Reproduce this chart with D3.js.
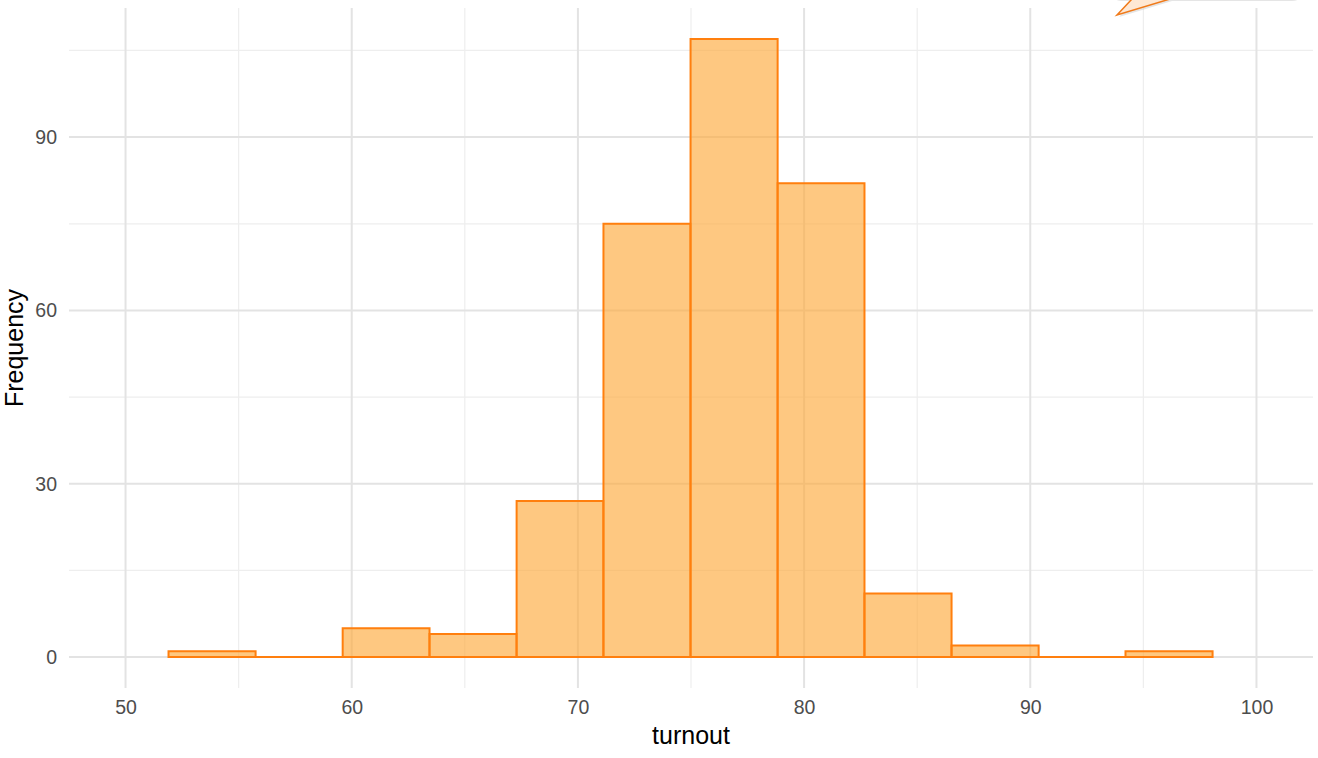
<!DOCTYPE html>
<html>
<head>
<meta charset="utf-8">
<script src="https://cdn.jsdelivr.net/npm/d3@7"></script>
<style>
  html, body { margin: 0; padding: 0; background: #ffffff; }
  svg { display: block; }
  text { font-family: "Liberation Sans", Arial, Helvetica, sans-serif; }
</style>
</head>
<body>
<svg id="chart" width="1318" height="758"></svg>
<script>
// Histogram of turnout: bin edges and counts per bin
const binEdges = [51.90, 55.75, 59.60, 63.44, 67.29, 71.13, 74.98, 78.83, 82.67, 86.52, 90.37, 94.21, 98.06];
const binCounts = [1, 0, 5, 4, 27, 75, 107, 82, 11, 2, 0, 1];
const xTicks = [50, 60, 70, 80, 90, 100];
const xMinor = [55, 65, 75, 85, 95];
const yTicks = [0, 30, 60, 90];
const yMinor = [15, 45, 75, 105];
const xTitle = "turnout";
const yTitle = "Frequency";

const bins = binCounts.map((c, i) => ({ x0: binEdges[i], x1: binEdges[i + 1], count: c }));

const svg = d3.select("#chart");
const panel = { left: 69, right: 1313, top: 8, bottom: 688 };

const x = d3.scaleLinear().domain([47.5, 102.5]).range([panel.left, panel.right]);
const y = d3.scaleLinear().domain([-5.35, 112.35]).range([panel.bottom, panel.top]);

const grid = svg.append("g");
// minor grid
grid.selectAll("line.xmin").data(xMinor).join("line")
  .attr("x1", d => x(d)).attr("x2", d => x(d))
  .attr("y1", panel.top).attr("y2", panel.bottom)
  .attr("stroke", "#eeeeee").attr("stroke-width", 1.2);
grid.selectAll("line.ymin").data(yMinor).join("line")
  .attr("y1", d => y(d)).attr("y2", d => y(d))
  .attr("x1", panel.left).attr("x2", panel.right)
  .attr("stroke", "#eeeeee").attr("stroke-width", 1.2);
// major grid
grid.selectAll("line.xmaj").data(xTicks).join("line")
  .attr("x1", d => x(d)).attr("x2", d => x(d))
  .attr("y1", panel.top).attr("y2", panel.bottom)
  .attr("stroke", "#e3e3e3").attr("stroke-width", 2);
grid.selectAll("line.ymaj").data(yTicks).join("line")
  .attr("y1", d => y(d)).attr("y2", d => y(d))
  .attr("x1", panel.left).attr("x2", panel.right)
  .attr("stroke", "#e3e3e3").attr("stroke-width", 2);

// bars drawn as closed paths so empty bins still show their outline
svg.append("g").selectAll("path").data(bins).join("path")
  .attr("d", d => `M${x(d.x0)},${y(0)}V${y(d.count)}H${x(d.x1)}V${y(0)}Z`)
  .attr("fill", "#fdab3e").attr("fill-opacity", 0.65)
  .attr("stroke", "#ff7f0e").attr("stroke-width", 2);

// axes (labels only)
const xAxis = d3.axisBottom(x).tickValues(xTicks).tickSize(0).tickPadding(0);
const gx = svg.append("g").attr("transform", `translate(0,${panel.bottom + 12})`).call(xAxis);
gx.select(".domain").remove();
gx.selectAll("text").attr("font-size", 19.5).attr("fill", "#4d4d4d")
  .attr("font-family", "Liberation Sans, Arial, sans-serif");

const yAxis = d3.axisLeft(y).tickValues(yTicks).tickSize(0).tickPadding(0);
const gy = svg.append("g").attr("transform", `translate(${panel.left - 12},0)`).call(yAxis);
gy.select(".domain").remove();
gy.selectAll("text").attr("font-size", 19.5).attr("fill", "#4d4d4d")
  .attr("font-family", "Liberation Sans, Arial, sans-serif");

svg.append("text").attr("x", (panel.left + panel.right) / 2).attr("y", 744)
  .attr("text-anchor", "middle").attr("font-size", 25).attr("fill", "#000")
  .text(xTitle);
svg.append("text").attr("transform", `translate(23,${(panel.top + panel.bottom) / 2}) rotate(-90)`)
  .attr("text-anchor", "middle").attr("font-size", 25).attr("fill", "#000")
  .text(yTitle);

// callout bubble at the top right, mostly outside the view
const bubble = "M1170,-1 L1290,-1 Q1300,-1 1300,-11 L1300,-60 L1110,-60 L1110,-11 Q1110,-1 1120,-1 L1132,-1 L1117,15 Z";
svg.append("path").attr("d", bubble).attr("transform", "translate(2,2)")
  .attr("fill", "#cccccc").attr("opacity", 0.5);
svg.append("path").attr("d", bubble)
  .attr("fill", "#fee8d4").attr("stroke", "#f07a1a").attr("stroke-width", 1.5);
</script>
</body>
</html>
